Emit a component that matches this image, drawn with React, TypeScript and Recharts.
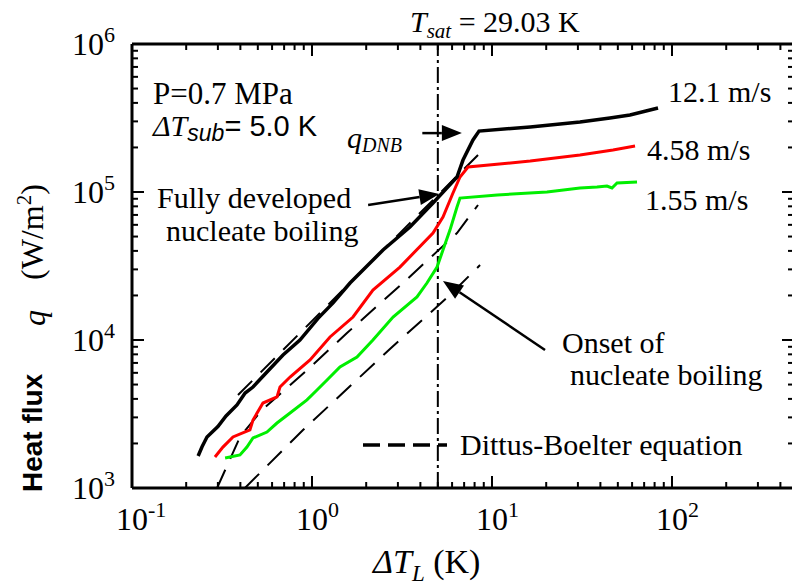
import React from 'react'
import { LineChart, Line, XAxis, YAxis, ReferenceLine } from 'recharts'

type Pt = { x: number; q: number }

// measured boiling curves, dT_L (K) vs q (W/m2)
const v121: Pt[] = [
  { x: 0.233, q: 1644 }, { x: 0.245, q: 1900 }, { x: 0.261, q: 2213 }, { x: 0.3, q: 2600 },
  { x: 0.333, q: 3065 }, { x: 0.383, q: 3640 }, { x: 0.425, q: 4385 }, { x: 0.47, q: 4810 },
  { x: 0.562, q: 6080 }, { x: 0.69, q: 7920 }, { x: 0.857, q: 10000 }, { x: 1.08, q: 14000 },
  { x: 1.309, q: 17800 }, { x: 1.626, q: 24270 }, { x: 2.48, q: 40550 }, { x: 3.5, q: 58000 },
  { x: 4.7, q: 84300 }, { x: 6.39, q: 126300 }, { x: 6.9, q: 164400 }, { x: 7.84, q: 224600 },
  { x: 8.47, q: 258000 }, { x: 16.3, q: 274900 }, { x: 30.8, q: 297000 }, { x: 45.2, q: 316000 },
  { x: 58.4, q: 331000 }, { x: 83.6, q: 369500 },
]
const v458: Pt[] = [
  { x: 0.289, q: 1620 }, { x: 0.32, q: 1890 }, { x: 0.364, q: 2213 }, { x: 0.452, q: 2466 },
  { x: 0.47, q: 2880 }, { x: 0.534, q: 3750 }, { x: 0.639, q: 4120 }, { x: 0.664, q: 4810 },
  { x: 0.755, q: 5620 }, { x: 0.975, q: 7330 }, { x: 1.259, q: 10480 }, { x: 1.69, q: 14300 },
  { x: 2.18, q: 21770 }, { x: 3.08, q: 31100 }, { x: 4.7, q: 52800 }, { x: 5.34, q: 67800 },
  { x: 6.07, q: 98400 }, { x: 6.64, q: 126300 }, { x: 7.36, q: 147500 }, { x: 16.3, q: 161900 },
  { x: 30.8, q: 177800 }, { x: 47.0, q: 192200 }, { x: 62.3, q: 204500 },
]
const v155: Pt[] = [
  { x: 0.329, q: 1596 }, { x: 0.398, q: 1671 }, { x: 0.435, q: 1890 }, { x: 0.47, q: 2178 },
  { x: 0.562, q: 2388 }, { x: 0.639, q: 2748 }, { x: 0.755, q: 3213 }, { x: 0.938, q: 3936 },
  { x: 1.066, q: 4590 }, { x: 1.212, q: 5370 }, { x: 1.43, q: 6570 }, { x: 1.778, q: 7670 },
  { x: 2.18, q: 10000 }, { x: 2.82, q: 14300 }, { x: 3.83, q: 19540 }, { x: 4.35, q: 24270 },
  { x: 4.95, q: 31100 }, { x: 5.34, q: 40550 }, { x: 5.84, q: 55300 }, { x: 6.39, q: 79200 },
  { x: 6.64, q: 91000 }, { x: 10.7, q: 95500 }, { x: 20.2, q: 100000 }, { x: 30.8, q: 106400 },
  { x: 38.3, q: 107900 }, { x: 43.5, q: 109800 }, { x: 46.4, q: 106400 }, { x: 49.5, q: 115000 },
  { x: 63.9, q: 117000 },
]

// Dittus-Boelter predictions
const dbTop: Pt[] = [{ x: 0.388, q: 4250 }, { x: 1.8, q: 27500 }, { x: 8.36, q: 177800 }]
const dbMid: Pt[] = [
  { x: 0.297, q: 1000 }, { x: 0.398, q: 2213 }, { x: 0.527, q: 3365 }, { x: 0.915, q: 6080 },
  { x: 1.564, q: 11150 }, { x: 3.2, q: 24270 }, { x: 6.39, q: 52800 }, { x: 8.36, q: 81700 },
]
const dbLow: Pt[] = [
  { x: 0.424, q: 1000 }, { x: 0.891, q: 2466 }, { x: 2.71, q: 8690 }, { x: 5.84, q: 20150 }, { x: 8.58, q: 32100 },
]

const xTicks = [0.1, 0.2, 0.3, 0.4, 0.5, 0.6, 0.7, 0.8, 0.9, 1, 2, 3, 4, 5, 6, 7, 8, 9, 10,
  20, 30, 40, 50, 60, 70, 80, 90, 100, 200, 300, 400]
const yTicks = [1000, 2000, 3000, 4000, 5000, 6000, 7000, 8000, 9000, 10000, 20000, 30000, 40000,
  50000, 60000, 70000, 80000, 90000, 100000, 200000, 300000, 400000, 500000, 600000, 700000,
  800000, 900000, 1000000]

const tSubCool = 5.0
const dnbArrow = [{ x: 4.1, y: 250000 }, { x: 6.8, y: 250000 }]
const fdbArrow = [{ x: 2.05, y: 81700 }, { x: 5.1, y: 96900 }]
const onbArrow = [{ x: 19.7, y: 8550 }, { x: 5.34, y: 25050 }]

const serif = 'Liberation Serif, Times New Roman, serif'
const sans = 'Liberation Sans, Arial, sans-serif'

const isMajor = (v: number) => Math.abs(Math.log10(v) - Math.round(Math.log10(v))) < 1e-6
const expOf = (v: number) => Math.round(Math.log10(v))

const BottomTick = ({ x, y, payload }: any) => {
  const major = isMajor(payload.value)
  return (
    <g>
      <line x1={x} y1={y} x2={x} y2={y - (major ? 12 : 6)} stroke="#000" strokeWidth={2} />
      {major && (
        <text x={x} y={y + 42} fontFamily={serif} fontSize={32} textAnchor="middle" fill="#000">10</text>
      )}
      {major && (
        <text x={x + 16} y={y + 29} fontFamily={serif} fontSize={22} fill="#000">{expOf(payload.value)}</text>
      )}
    </g>
  )
}

const TopTick = ({ x, y, payload }: any) => (
  <line x1={x} y1={y} x2={x} y2={y + (isMajor(payload.value) ? 12 : 6)} stroke="#000" strokeWidth={2} />
)

const LeftTick = ({ x, y, payload }: any) => {
  const major = isMajor(payload.value)
  return (
    <g>
      <line x1={x} y1={y} x2={x + (major ? 12 : 6)} y2={y} stroke="#000" strokeWidth={2} />
      {major && (
        <text x={x - 60} y={y + 11} fontFamily={serif} fontSize={32} fill="#000">10</text>
      )}
      {major && (
        <text x={x - 28} y={y - 2} fontFamily={serif} fontSize={22} fill="#000">{expOf(payload.value)}</text>
      )}
    </g>
  )
}

const RightTick = ({ x, y, payload }: any) => (
  <line x1={x} y1={y} x2={x - (isMajor(payload.value) ? 12 : 6)} y2={y} stroke="#000" strokeWidth={2} />
)

const Arrow = (p: any) => {
  const { x1, y1, x2, y2 } = p
  const a = Math.atan2(y2 - y1, x2 - x1)
  const L = 20
  const W = 8
  const bx = x2 - L * Math.cos(a)
  const by = y2 - L * Math.sin(a)
  const px = -Math.sin(a) * W
  const py = Math.cos(a) * W
  return (
    <g>
      <line x1={x1} y1={y1} x2={bx} y2={by} stroke="#000" strokeWidth={2.5} />
      <polygon points={`${x2},${y2} ${bx + px},${by + py} ${bx - px},${by - py}`} fill="#000" />
    </g>
  )
}

export default function App() {
  return (
    <div style={{ position: 'absolute', left: 0, top: 0, width: 792, height: 585, overflow: 'hidden', background: '#fff' }}>
      <LineChart width={800} height={585} margin={{ top: 0, right: 5, bottom: 0, left: 0 }}>
        <XAxis dataKey="x" type="number" scale="log" domain={[0.1, 476]} allowDataOverflow
          ticks={xTicks} interval={0} tick={<BottomTick />} tickLine={false} tickSize={0} tickMargin={0}
          height={97} axisLine={{ stroke: '#000', strokeWidth: 3 }} />
        <XAxis xAxisId="top" orientation="top" dataKey="x" type="number" scale="log" domain={[0.1, 476]}
          allowDataOverflow ticks={xTicks} interval={0} tick={<TopTick />} tickLine={false} tickSize={0}
          tickMargin={0} height={44} axisLine={{ stroke: '#000', strokeWidth: 3 }} />
        <YAxis type="number" scale="log" domain={[1000, 1000000]} allowDataOverflow ticks={yTicks}
          interval={0} tick={<LeftTick />} tickLine={false} tickSize={0} tickMargin={0} width={132}
          axisLine={{ stroke: '#000', strokeWidth: 3 }} />
        <YAxis yAxisId="right" orientation="right" type="number" scale="log" domain={[1000, 1000000]}
          allowDataOverflow ticks={yTicks} interval={0} tick={<RightTick />} tickLine={false} tickSize={0}
          tickMargin={0} width={1} axisLine={{ stroke: '#000', strokeWidth: 3 }} />

        <ReferenceLine x={tSubCool} stroke="#000" strokeWidth={2} strokeDasharray="16 4 3 4" />

        <Line data={dbTop} dataKey="q" stroke="#000" strokeWidth={2} strokeDasharray="20 12" dot={false} activeDot={false} isAnimationActive={false} />
        <Line data={dbMid} dataKey="q" stroke="#000" strokeWidth={2} strokeDasharray="20 12" dot={false} activeDot={false} isAnimationActive={false} />
        <Line data={dbLow} dataKey="q" stroke="#000" strokeWidth={2} strokeDasharray="20 12" dot={false} activeDot={false} isAnimationActive={false} />
        <Line data={v155} dataKey="q" stroke="#00ee00" strokeWidth={3} dot={false} activeDot={false} isAnimationActive={false} />
        <Line data={v458} dataKey="q" stroke="#ff0000" strokeWidth={3} dot={false} activeDot={false} isAnimationActive={false} />
        <Line data={v121} dataKey="q" stroke="#000" strokeWidth={3.5} dot={false} activeDot={false} isAnimationActive={false} />

        <ReferenceLine segment={dnbArrow} ifOverflow="visible" shape={Arrow} />
        <ReferenceLine segment={fdbArrow} ifOverflow="visible" shape={Arrow} />
        <ReferenceLine segment={onbArrow} ifOverflow="visible" shape={Arrow} />

        <text x={410} y={32} fontSize={30} fill="#000">
          <tspan fontFamily={serif} fontStyle="italic">T</tspan>
          <tspan fontFamily={serif} fontStyle="italic" fontSize={21} dy={6}>sat</tspan>
          <tspan fontFamily={serif} dy={-6}> = 29.03 K</tspan>
        </text>
        <text x={153} y={104} fontFamily={serif} fontSize={31} fill="#000">P=0.7 MPa</text>
        <text x={153} y={136} fontSize={29} fill="#000">
          <tspan fontFamily={serif} fontStyle="italic" fontSize={30}>ΔT</tspan>
          <tspan fontFamily={sans} fontStyle="italic" fontSize={23} dy={5}>sub</tspan>
          <tspan fontFamily={sans} dy={-5}>= 5.0 K</tspan>
        </text>
        <text x={347} y={148} fontSize={30} fill="#000">
          <tspan fontFamily={serif} fontStyle="italic">q</tspan>
          <tspan fontFamily={serif} fontStyle="italic" fontSize={20} dy={4}>DNB</tspan>
        </text>
        <text x={157} y={208} fontFamily={serif} fontSize={30} fill="#000">Fully developed</text>
        <text x={166} y={241} fontFamily={serif} fontSize={30} fill="#000">nucleate boiling</text>
        <text x={562} y={353} fontFamily={serif} fontSize={30} fill="#000">Onset of</text>
        <text x={570} y={385} fontFamily={serif} fontSize={30} fill="#000">nucleate boiling</text>
        <text x={668} y={102} fontFamily={serif} fontSize={30} fill="#000">12.1 m/s</text>
        <text x={647} y={160} fontFamily={serif} fontSize={30} fill="#000">4.58 m/s</text>
        <text x={645} y={210} fontFamily={serif} fontSize={30} fill="#000">1.55 m/s</text>

        <line x1={363} y1={445} x2={447} y2={445} stroke="#000" strokeWidth={3.5} strokeDasharray="17 8" />
        <text x={460} y={455} fontFamily={serif} fontSize={30} fill="#000">Dittus-Boelter equation</text>

        <text x={373} y={573} fontSize={34} fill="#000">
          <tspan fontFamily={serif} fontStyle="italic">ΔT</tspan>
          <tspan fontFamily={serif} fontStyle="italic" fontSize={23} dy={8}>L</tspan>
          <tspan fontFamily={serif} dy={-8}> (K)</tspan>
        </text>

        <text x={42} y={492} transform="rotate(-90 42 492)" fontFamily={sans} fontWeight="bold" fontSize={28} fill="#000">Heat flux</text>
        <text x={45} y={326} transform="rotate(-90 45 326)" fontFamily={serif} fontStyle="italic" fontSize={32} fill="#000">q</text>
        <text x={43} y={280} transform="rotate(-90 43 280)" fontSize={32} fill="#000">
          <tspan fontFamily={serif}>(W/m</tspan>
          <tspan fontFamily={serif} fontSize={21} dy={-12}>2</tspan>
          <tspan fontFamily={serif} dy={12}>)</tspan>
        </text>
      </LineChart>
    </div>
  )
}
